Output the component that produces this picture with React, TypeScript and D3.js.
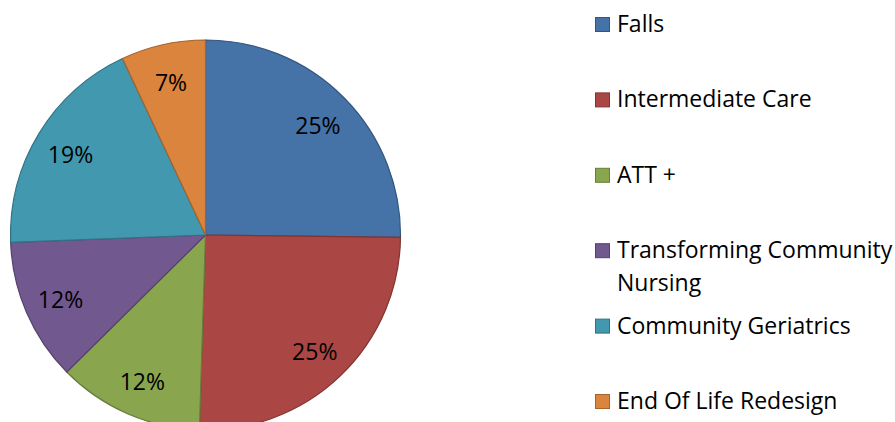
import React, { useEffect, useRef } from 'react';
import * as d3 from 'd3';

const categories = [
  'Falls',
  'Intermediate Care',
  'ATT +',
  'Transforming Community Nursing',
  'Community Geriatrics',
  'End Of Life Redesign',
];
const values = [25.2, 25.3, 12.1, 11.8, 18.6, 7.0];
const colors = ['#4572A7', '#AA4643', '#89A54E', '#71588F', '#4198AF', '#DB843D'];
// legend lines, long names wrap like the original
const legendLines = [
  ['Falls'],
  ['Intermediate Care'],
  ['ATT +'],
  ['Transforming Community', 'Nursing'],
  ['Community Geriatrics'],
  ['End Of Life Redesign'],
];

const W = 895;
const H = 422;
const FONT = '"Open Sans", sans-serif';

const PieChart = () => {
  const ref = useRef<SVGSVGElement>(null);

  useEffect(() => {
    if (!ref.current) return;
    const svg = d3.select(ref.current);
    svg.selectAll('*').remove();

    const cx = 205.5;
    const cy = 235;
    const radius = 195;
    const total = d3.sum(values);

    const pie = d3.pie<number>().sort(null).value(d => d);
    const arc = d3.arc<d3.PieArcDatum<number>>().innerRadius(0).outerRadius(radius);
    const labelArc = d3.arc<d3.PieArcDatum<number>>().innerRadius(158).outerRadius(158);

    const g = svg.append('g').attr('transform', `translate(${cx},${cy})`);
    const arcs = pie(values);

    g.selectAll('path')
      .data(arcs)
      .join('path')
      .attr('d', arc)
      .attr('fill', (d, i) => colors[i])
      .attr('stroke', (d, i) => d3.color(colors[i])!.darker(0.8).toString())
      .attr('stroke-width', 1.2)
      .attr('stroke-linejoin', 'round');

    g.selectAll('text')
      .data(arcs)
      .join('text')
      .attr('transform', d => `translate(${labelArc.centroid(d)})`)
      .attr('text-anchor', 'middle')
      .attr('dy', '0.45em')
      .attr('font-family', FONT)
      .attr('font-size', 23)
      .attr('fill', '#000')
      .text(d => `${Math.round((d.value / total) * 100)}%`);

    // legend
    const legend = svg.append('g').attr('transform', 'translate(595,32)');
    const item = legend.selectAll('g')
      .data(categories)
      .join('g')
      .attr('transform', (d, i) => `translate(0,${i * 75.4})`);

    item.append('rect')
      .attr('x', 0.5)
      .attr('y', -14.5)
      .attr('width', 14)
      .attr('height', 14)
      .attr('fill', (d, i) => colors[i])
      .attr('stroke', (d, i) => d3.color(colors[i])!.darker(0.8).toString())
      .attr('stroke-width', 1);

    item.append('text')
      .attr('font-family', FONT)
      .attr('font-size', 23)
      .attr('fill', '#000')
      .selectAll('tspan')
      .data((d, i) => legendLines[i])
      .join('tspan')
      .attr('x', 22)
      .attr('y', (d, j) => j * 32.5)
      .text(d => d);
  }, []);

  return (
    <svg
      ref={ref}
      width={W}
      height={H}
      style={{ position: 'absolute', left: 0, top: 0, background: '#fff', overflow: 'hidden' }}
    />
  );
};

export default function App() {
  return <PieChart />;
}
